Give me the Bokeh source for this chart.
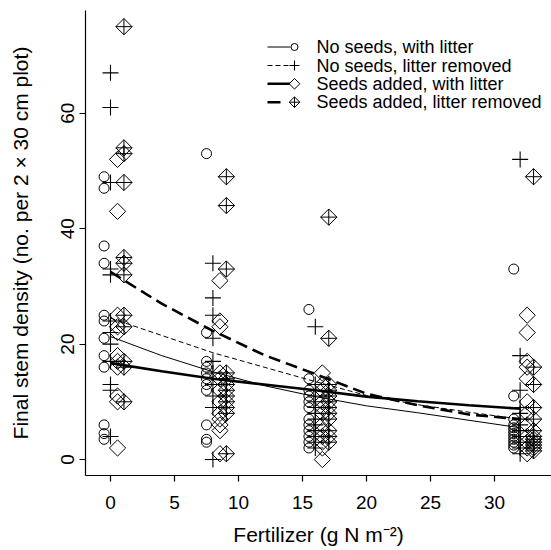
import numpy as np
from bokeh.plotting import figure
from bokeh.models import Range1d, FixedTicker, Label
from bokeh.embed import file_html
from bokeh.resources import INLINE

# ---------------- data ----------------
FERT = [0, 8, 16, 32]
X_TICKS = [0, 5, 10, 15, 20, 25, 30]
Y_TICKS = [0, 20, 40, 60]

LABELS = ["No seeds, with litter", "No seeds, litter removed",
          "Seeds added, with litter", "Seeds added, litter removed"]
X_TITLE = "Fertilizer (g N m\u207b\u00b2)"
Y_TITLE = "Final stem density (no. per 2 \u00d7 30 cm plot)"

# observed stem densities per fertilizer level (same order as FERT)
no_seeds_litter = [
    [49, 47, 37, 34, 25, 24, 21, 18, 16, 6, 4.5, 3.5],
    [53, 22, 17, 16, 15, 14, 13, 12, 6, 3.5, 3],
    [26, 14, 12, 11, 10, 9, 7, 6, 5, 4, 3, 2],
    [33, 11, 7, 6, 5.5, 5, 4.5, 4, 3.5, 3, 2.5, 2],
]
no_seeds_removed = [
    [67, 61, 48, 33, 32, 24, 22, 20, 17, 13, 12, 4],
    [34, 28, 25, 21, 17, 15, 13, 11, 9, 0],
    [23, 13, 11, 10, 9, 8, 7, 6, 5, 4, 3, 2],
    [52, 18, 12, 9, 8, 7, 6, 5, 4, 3, 2, 1],
]
seeds_litter = [
    [52, 43, 25, 23, 22, 18, 17, 16, 11, 10, 2],
    [31, 24, 23, 15, 14, 12, 10, 8, 7, 6, 5, 1],
    [15, 13, 12, 10, 9, 8, 6, 5, 4, 3, 2, 0],
    [25, 22, 17, 16, 14, 10, 8, 6, 4, 3, 2, 1],
]
seeds_removed = [
    [75, 54, 53, 48, 35, 34, 32, 25, 23, 17, 16, 10],
    [49, 44, 33, 15, 14, 13, 12, 11, 10, 9, 8, 1],
    [42, 21, 13, 12, 11, 10, 9, 8, 7, 5, 4, 3],
    [49, 16, 13, 9, 7, 5, 4, 3.5, 3, 2.5, 2, 1.5],
]

# fitted curves, read at these fertilizer values
FIT_X = [0, 4, 8, 12, 16, 20, 24, 28, 32]
fit_no_seeds_litter = [21.3, 18.0, 15.2, 12.8, 10.9, 9.3, 8.1, 6.8, 5.5]
fit_no_seeds_removed = [24.5, 21.5, 18.5, 16.0, 13.5, 11.1, 9.5, 8.2, 7.0]
fit_seeds_litter = [16.7, 15.3, 14.0, 13.0, 12.0, 10.9, 10.1, 9.4, 8.8]
fit_seeds_removed = [32.5, 27.0, 22.3, 18.1, 14.8, 11.4, 9.4, 7.8, 7.0]

# horizontal jitter (g N m-2) used to separate the treatments
OFFSETS = [-0.5, 0.0, 0.55, 1.05]

FONT = "Liberation Sans"

# layout (pixels)
W, H = 551, 550
LEFT, RIGHT, TOP, BOTTOM = 85, 0, 10, 75
FW, FH = W - LEFT - RIGHT, H - TOP - BOTTOM


def flatten(series, offset):
    xs, ys = [], []
    for f, vals in zip(FERT, series):
        xs += [f + offset] * len(vals)
        ys += list(vals)
    return xs, ys


p = figure(width=W, height=H,
           x_range=Range1d(-1.953, 34.45), y_range=Range1d(-2.77, 77.8),
           output_backend="svg", toolbar_location=None,
           min_border_left=LEFT, min_border_right=RIGHT,
           min_border_top=TOP, min_border_bottom=BOTTOM)
p.outline_line_color = None
p.grid.visible = False
p.background_fill_color = "white"
p.border_fill_color = "white"
# pixel ranges for the hand-drawn legend samples
p.extra_x_ranges = {"px": Range1d(0, FW)}
p.extra_y_ranges = {"px": Range1d(0, FH)}

# styles per treatment
LINE_STYLES = [dict(line_width=1),
               dict(line_width=1, line_dash="5 3"),
               dict(line_width=2.6),
               dict(line_width=2.6, line_dash="12 6")]
MARKERS = [dict(marker="circle", size=10, line_width=1),
           dict(marker="cross", size=16, line_width=1.1),
           dict(marker="square", size=11.5, angle=np.pi / 4, line_width=1),
           dict(marker="square_x", size=11.5, angle=np.pi / 4, line_width=1)]
LEGEND_MARKERS = [dict(marker="circle", size=7, line_width=1),
                  dict(marker="cross", size=10, line_width=1.1),
                  dict(marker="square", size=7.5, angle=np.pi / 4,
                       line_width=1),
                  dict(marker="square_x", size=7.5, angle=np.pi / 4,
                       line_width=1)]
LEGEND_LINES = [dict(line_width=1),
                dict(line_width=1, line_dash="5 3"),
                dict(line_width=2.6),
                dict(line_width=2.6, line_dash="13 20")]

fits = [fit_no_seeds_litter, fit_no_seeds_removed,
        fit_seeds_litter, fit_seeds_removed]
series = [no_seeds_litter, no_seeds_removed, seeds_litter, seeds_removed]

for fit, ls in zip(fits, LINE_STYLES):
    p.line(FIT_X, fit, line_color="black", **ls)

for ser, off, mk in zip(series, OFFSETS, MARKERS):
    x, y = flatten(ser, off)
    p.scatter(x, y, fill_color=None, line_color="black", **mk)

# axes
for ax in (p.xaxis, p.yaxis):
    ax.axis_line_width = 1.2
    ax.major_tick_line_width = 1.2
    ax.major_tick_out = 6
    ax.major_tick_in = 0
    ax.minor_tick_out = 0
    ax.minor_tick_in = 0
    ax.major_label_text_font = FONT
    ax.major_label_text_font_size = "19px"
    ax.major_label_text_color = "black"
    ax.axis_label_text_font = FONT
    ax.axis_label_text_font_size = "21px"
    ax.axis_label_text_font_style = "normal"
    ax.axis_label_text_color = "black"

p.xaxis.ticker = FixedTicker(ticks=X_TICKS)
p.yaxis.ticker = FixedTicker(ticks=Y_TICKS)
p.yaxis.major_label_orientation = "vertical"
p.xaxis.axis_label = X_TITLE
p.yaxis.axis_label = Y_TITLE
p.xaxis.major_label_standoff = 14
p.xaxis.axis_label_standoff = 11
p.yaxis.major_label_standoff = 5
p.yaxis.axis_label_standoff = 27

# legend drawn by hand: line sample, marker, label
ROW_Y = [428.5, 410, 391.7, 373.3]
for ry, ls, mk, lab in zip(ROW_Y, LEGEND_LINES, LEGEND_MARKERS, LABELS):
    p.line([182, 205], [ry, ry], line_color="black",
           x_range_name="px", y_range_name="px", **ls)
    p.scatter([209], [ry], fill_color="white", line_color="black",
              x_range_name="px", y_range_name="px", **mk)
    p.add_layout(Label(x=231, y=ry, x_units="screen", y_units="screen",
                       text=lab, text_baseline="middle", text_font=FONT,
                       text_font_size="18px", text_color="black"))

open("out.html", "w").write(file_html(p, INLINE))
